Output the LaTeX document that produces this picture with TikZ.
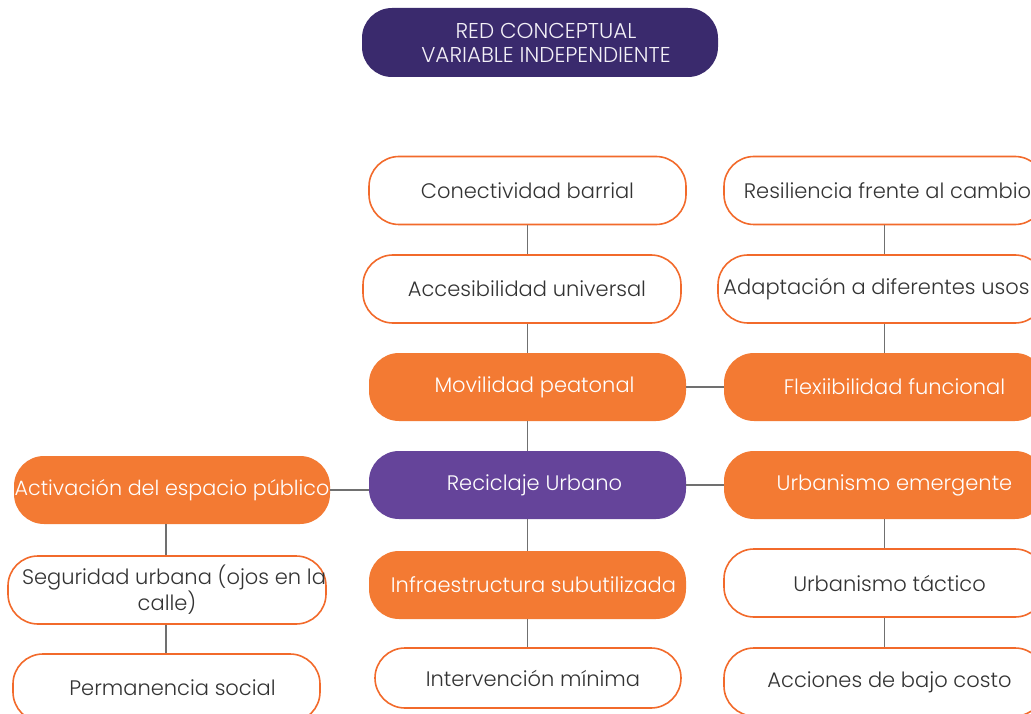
\documentclass[tikz,border=0pt]{standalone}
\usepackage{fontspec}
\IfFontExistsTF{Poppins Light}{\setmainfont{Poppins Light}}{\setmainfont{Poppins}}
\definecolor{orangeline}{HTML}{F26A2B}
\definecolor{orangefill}{HTML}{F37A33}
\definecolor{purplemain}{HTML}{65449A}
\definecolor{purpledark}{HTML}{3A2A6D}
\definecolor{linegray}{HTML}{707070}
\definecolor{textdark}{HTML}{333333}
\begin{document}
\begin{tikzpicture}[x=1pt,y=-1pt,
  box/.style={rectangle, rounded corners=30pt, minimum height=68pt, inner sep=0pt, align=center, font=\fontsize{21}{24}\selectfont},
  wbox/.style={box, draw=orangeline, line width=1.6pt, fill=white, text=textdark},
  obox/.style={box, fill=orangefill, text=white},
  pbox/.style={box, fill=purplemain, text=white},
  link/.style={draw=linegray, line width=1.6pt}]
\useasboundingbox (0,0) rectangle (1031,714);
\clip (0,0) rectangle (1031,714);
% title
\node[box, fill=purpledark, text=white!92!purplemain, minimum width=356pt, minimum height=69pt, font=\fontsize{21.5}{24}\selectfont] (title) at (540,42.5) {\hspace*{12pt}RED CONCEPTUAL\\\hspace*{12pt}VARIABLE INDEPENDIENTE};
% middle column
\node[wbox, minimum width=317pt] (con) at (527.5,190.5) {Conectividad barrial};
\node[wbox, minimum width=318pt] (acc) at (522,289) {\hspace*{10pt}Accesibilidad universal};
\node[obox, minimum width=317pt] (mov) at (527.5,387) {\hspace*{14pt}Movilidad peatonal};
\node[pbox, minimum width=317pt] (rec) at (527.5,485) {\hspace*{14pt}Reciclaje Urbano};
\node[obox, minimum width=317pt] (inf) at (527.5,585) {\hspace*{12pt}Infraestructura subutilizada};
\node[wbox, minimum width=306pt, minimum height=60pt] (int) at (528,678) {\hspace*{10pt}Intervención mínima};
% right column
\node[wbox, minimum width=321pt] (res) at (884.5,190.5) {\hspace*{6pt}Resiliencia frente al cambio};
\node[wbox, minimum width=327pt] (ada) at (881.5,289) {Adaptación a diferentes usos\hspace*{10pt}};
\node[obox, minimum width=321pt] (flex) at (884.5,387) {\hspace*{20pt}Flexiibilidad funcional};
\node[obox, minimum width=321pt] (urbem) at (884.5,485) {\hspace*{20pt}Urbanismo emergente};
\node[wbox, minimum width=321pt] (urbt) at (884.5,583) {\hspace*{10pt}Urbanismo táctico};
\node[wbox, minimum width=321pt] (acci) at (884.5,682) {\hspace*{10pt}Acciones de bajo costo};
% left column
\node[obox, minimum width=316pt, font=\fontsize{20.7}{24}\selectfont] (act) at (172,490) {Activación del espacio público};
\node[wbox, minimum width=318pt] (seg) at (167,590) {\hspace*{14pt}Seguridad urbana (ojos en la\\calle)};
\node[wbox, minimum width=307pt] (per) at (166.5,688) {\hspace*{12pt}Permanencia social};
% connectors
\draw[link] (con.south) -- (con.south |- acc.north);
\draw[link] (con.south |- acc.south) -- (con.south |- mov.north);
\draw[link] (mov.south) -- (rec.north);
\draw[link] (rec.south) -- (inf.north);
\draw[link] (inf.south) -- (inf.south |- int.north);
\draw[link] (res.south) -- (res.south |- ada.north);
\draw[link] (res.south |- ada.south) -- (flex.north);
\draw[link] (urbem.south) -- (urbt.north);
\draw[link] (urbt.south) -- (acci.north);
\draw[link] (mov.east) -- (flex.west);
\draw[link] (rec.east) -- (urbem.west);
\draw[link] (act.east) -- (act.east -| rec.west);
\draw[link] (seg.north -| 166,0) -- (act.south -| 166,0);
\draw[link] (seg.south -| 166,0) -- (per.north -| 166,0);
\end{tikzpicture}
\end{document}
